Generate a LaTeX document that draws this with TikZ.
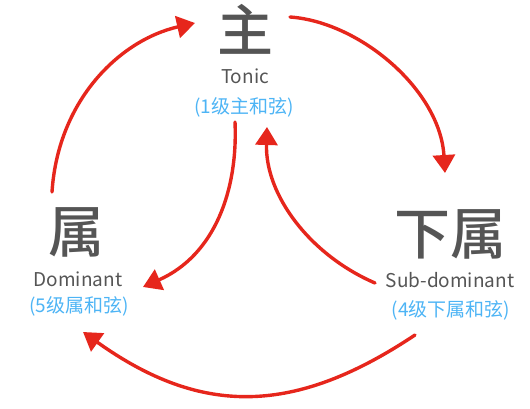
\documentclass[tikz,border=0pt]{standalone}
\usepackage{fontspec}
\setmainfont{Noto Sans CJK SC}
\newfontfamily\bigfont{Noto Sans CJK SC Medium}
\usepackage{tikz}
\usetikzlibrary{arrows.meta}

\definecolor{chordgray}{HTML}{555555}
\definecolor{chordblue}{HTML}{4DB4F5}
\definecolor{penred}{HTML}{E6261C}

\begin{document}
\begin{tikzpicture}[x=1pt, y=-1pt,
    big/.style={text=chordgray, font=\fontsize{56}{60}\bigfont, inner sep=0pt},
    en/.style={text=chordgray, font=\fontsize{19}{22}\selectfont, inner sep=0pt},
    cn/.style={text=chordblue, font=\fontsize{19}{22}\selectfont, inner sep=0pt},
    pen/.style={penred, line width=3.4pt, line cap=round, -{Triangle[length=18pt, width=22pt]}}]
        \useasboundingbox (0,0) rectangle (530,409);

        \node[big] (tonic) at (245,29) {主};
        \node[en] (tonicEn) at (245,76) {Tonic};
        \node[cn] (tonicCn) at (244,107) {(1级主和弦)};

        \node[big] (dom) at (76,232) {属};
        \node[en] (domEn) at (78,279) {Dominant};
        \node[cn] (domCn) at (79,306) {(5级属和弦)};

        \node[big] (sub) at (450,234) {下属};
        \node[en] (subEn) at (450,280) {Sub-dominant};
        \node[cn] (subCn) at (451,310) {(4级下属和弦)};

        \coordinate (domUp) at (52,192);
        \coordinate (tonicIn) at (195,23);
        \coordinate (tonicOut) at (290,17);
        \coordinate (subIn) at (445,173);
        \coordinate (tonicDown) at (235,122);
        \coordinate (domIn) at (143,287);
        \coordinate (subLeft) at (375,283);
        \coordinate (tonicUp) at (267,127);
        \coordinate (subDown) at (415,335);
        \coordinate (domBelow) at (83,332);

        \draw[pen] (domUp) .. controls (58,100) and (120,40) .. (tonicIn);
        \draw[pen] (tonicOut) .. controls (360,22) and (440,90) .. (subIn);
        \draw[pen] (tonicDown) .. controls (238,190) and (215,255) .. (domIn);
        \draw[pen] (subLeft) .. controls (310,255) and (265,195) .. (tonicUp);
        \draw[pen] (subDown) .. controls (295,415) and (202,417) .. (domBelow);
\end{tikzpicture}
\end{document}
